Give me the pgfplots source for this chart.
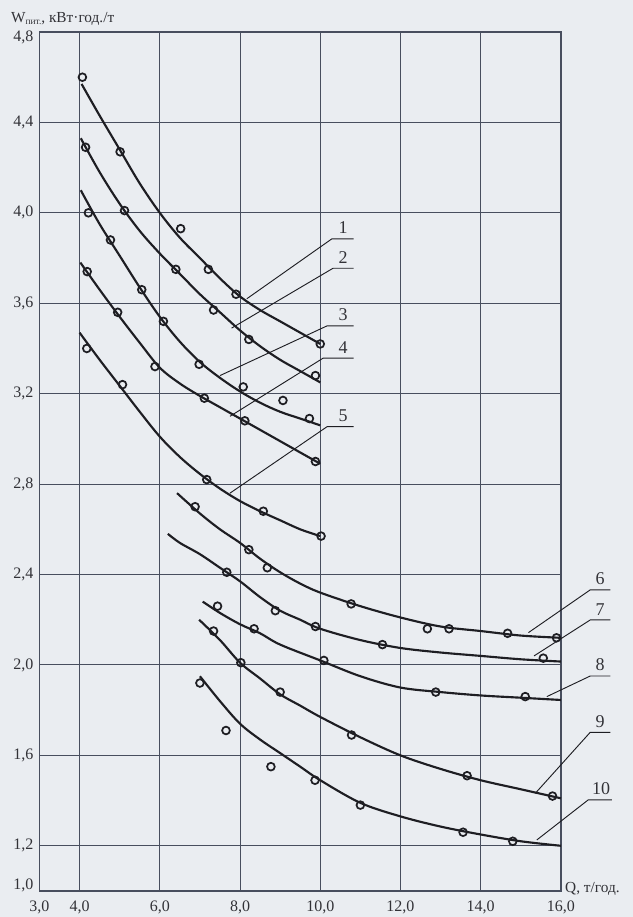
\documentclass[border=0pt]{standalone}
\usepackage{fontspec}
\setmainfont{Liberation Serif}
\usepackage{pgfplots}
\pgfplotsset{compat=1.18}
\definecolor{bg}{RGB}{234,237,241}
\definecolor{ink}{RGB}{30,30,35}
\definecolor{gridc}{RGB}{72,78,94}
\definecolor{txt}{RGB}{50,50,55}
\tikzset{
  lead/.style={ink, line width=0.7pt},
  lab/.style={font=\fontsize{13.5}{15}\selectfont, text=txt, anchor=south, inner sep=0pt, yshift=3.5pt},
}
\pgfplotsset{
  curve/.style={ink, line width=1.6pt, smooth, tension=0.55},
  pts/.style={only marks, mark=o, mark size=2.9pt, line width=1.3pt, mark options={draw=ink, line width=1.3pt, fill=bg}},
}
\begin{document}
\begin{tikzpicture}
\fill[bg] (-29.6pt,-19.5pt) rectangle (445.1pt,668.25pt);
\begin{axis}[
  name=ax,
  at={(0,0)}, anchor=south west,
  scale only axis,
  width=391.1pt, height=644.25pt,
  xmin=3, xmax=16, ymin=1.0, ymax=4.8,
  xtick={3,4,6,8,10,12,14,16},
  xticklabels={{3,0},{4,0},{6,0},{8,0},{10,0},{12,0},{14,0},{16,0}},
  ytick={1.0,1.2,1.6,2.0,2.4,2.8,3.2,3.6,4.0,4.4,4.8},
  yticklabels={{\raisebox{1pt}[0pt][0pt]{1,0}},{1,2},{1,6},{2,0},{2,4},{2,8},{3,2},{3,6},{4,0},{4,4},{\raisebox{-7.5pt}[0pt][0pt]{4,8}}},
  major tick length=0pt,
  grid=major,
  grid style={gridc, line width=0.75pt},
  axis line style={gridc, line width=1.1pt},
  tick label style={font=\fontsize{12}{14}\selectfont, text=txt},
  xticklabel style={yshift=-3.5pt},
  yticklabel style={xshift=-1pt},
  clip=false,
]
% curve 1
\addplot[curve] coordinates {(4.05,4.57)(4.5,4.43)(5,4.28)(5.5,4.13)(6,4.00)(6.5,3.89)(7,3.80)(7.5,3.71)(8,3.63)(8.5,3.57)(9,3.52)(9.5,3.47)(10,3.42)};
\addplot[pts] coordinates {(4.07,4.60)(5.01,4.27)(6.52,3.93)(7.21,3.75)(7.90,3.64)(10.0,3.42)};
% curve 2
\addplot[curve] coordinates {(4.03,4.33)(4.5,4.18)(5,4.04)(5.5,3.92)(6,3.82)(6.5,3.73)(7,3.64)(7.5,3.56)(8,3.48)(8.5,3.41)(9,3.35)(9.5,3.30)(10,3.25)};
\addplot[pts] coordinates {(4.15,4.29)(5.12,4.01)(6.40,3.75)(7.34,3.57)(8.22,3.44)(9.88,3.28)};
% curve 3
\addplot[curve] coordinates {(4.03,4.10)(4.5,3.95)(5,3.81)(5.5,3.67)(6,3.54)(6.5,3.43)(7,3.34)(7.5,3.27)(8,3.21)(8.5,3.16)(9,3.12)(9.5,3.09)(10,3.06)};
\addplot[pts] coordinates {(4.22,4.00)(4.77,3.88)(5.55,3.66)(6.09,3.52)(6.98,3.33)(8.08,3.23)(9.07,3.17)(9.73,3.09)};
% curve 4
\addplot[curve] coordinates {(4.02,3.78)(4.5,3.66)(5,3.54)(5.5,3.425)(6,3.315)(6.5,3.245)(7,3.19)(7.5,3.14)(8,3.09)(8.5,3.04)(9,2.99)(9.5,2.94)(10,2.89)};
\addplot[pts] coordinates {(4.19,3.74)(4.95,3.56)(5.88,3.32)(7.11,3.18)(8.12,3.08)(9.88,2.90)};
% curve 5
\addplot[curve] coordinates {(4.0,3.47)(4.5,3.35)(5,3.235)(5.5,3.12)(6,3.01)(6.5,2.92)(7,2.845)(7.5,2.78)(8,2.725)(8.5,2.68)(9,2.64)(9.5,2.60)(10,2.57)};
\addplot[pts] coordinates {(4.18,3.40)(5.07,3.24)(7.17,2.82)(8.58,2.68)(10.02,2.57)};
% curve 6
\addplot[curve] coordinates {(6.43,2.76)(7,2.67)(7.5,2.60)(8,2.54)(8.5,2.47)(9,2.41)(9.5,2.36)(10,2.32)(11,2.26)(12,2.21)(13,2.17)(14,2.15)(15,2.13)(16,2.12)};
\addplot[pts] coordinates {(6.88,2.70)(8.22,2.51)(8.68,2.43)(10.77,2.27)(12.67,2.16)(13.21,2.16)(14.67,2.14)(15.89,2.12)};
% curve 7
\addplot[curve] coordinates {(6.2,2.58)(6.5,2.54)(7,2.49)(7.5,2.43)(8,2.37)(8.5,2.30)(9,2.24)(9.5,2.20)(10,2.16)(11,2.11)(12,2.075)(13,2.055)(14,2.04)(15,2.025)(16,2.015)};
\addplot[pts] coordinates {(7.67,2.41)(8.88,2.24)(9.88,2.17)(11.55,2.09)(15.56,2.03)};
% curve 8
\addplot[curve] coordinates {(7.07,2.28)(7.5,2.23)(8,2.18)(8.5,2.14)(9,2.09)(10,2.02)(11,1.95)(12,1.90)(13,1.88)(14,1.865)(15,1.855)(16,1.845)};
\addplot[pts] coordinates {(7.44,2.26)(8.35,2.16)(10.09,2.02)(12.88,1.88)(15.11,1.86)};
% curve 9
\addplot[curve] coordinates {(6.98,2.20)(7.5,2.11)(8,2.01)(8.5,1.94)(9,1.87)(9.5,1.82)(10,1.77)(11,1.68)(12,1.60)(13,1.54)(14,1.49)(15,1.45)(16,1.41)};
\addplot[pts] coordinates {(7.34,2.15)(8.02,2.01)(9.0,1.88)(10.78,1.69)(13.66,1.51)(15.79,1.42)};
% curve 10
\addplot[curve] coordinates {(7.0,1.95)(7.5,1.84)(8,1.74)(8.5,1.67)(9,1.61)(9.5,1.55)(10,1.49)(11,1.39)(12,1.33)(13,1.285)(14,1.25)(15,1.22)(16,1.20)};
\addplot[pts] coordinates {(7.0,1.92)(7.65,1.71)(8.77,1.55)(9.87,1.49)(11.0,1.38)(13.56,1.26)(14.8,1.22)};
% leaders and labels
\draw[lead] (axis cs:8.17,3.62) -- (axis cs:10.29,3.885) -- (axis cs:10.83,3.885);
\node[lab] at (axis cs:10.57,3.885) {1};
\draw[lead] (axis cs:7.79,3.49) -- (axis cs:10.32,3.755) -- (axis cs:10.83,3.755);
\node[lab] at (axis cs:10.57,3.755) {2};
\draw[lead] (axis cs:7.50,3.28) -- (axis cs:10.17,3.50) -- (axis cs:10.83,3.50);
\node[lab] at (axis cs:10.57,3.50) {3};
\draw[lead] (axis cs:7.75,3.10) -- (axis cs:10.07,3.357) -- (axis cs:10.83,3.357);
\node[lab] at (axis cs:10.57,3.357) {4};
\draw[lead] (axis cs:7.75,2.76) -- (axis cs:10.17,3.054) -- (axis cs:10.83,3.054);
\node[lab] at (axis cs:10.57,3.054) {5};
\draw[lead] (axis cs:15.19,2.143) -- (axis cs:16.73,2.332) -- (axis cs:17.23,2.332);
\node[lab] at (axis cs:16.98,2.332) {6};
\draw[lead] (axis cs:15.33,2.04) -- (axis cs:16.73,2.199) -- (axis cs:17.23,2.199);
\node[lab] at (axis cs:16.98,2.199) {7};
\draw[lead] (axis cs:15.65,1.86) -- (axis cs:16.73,1.951) -- (axis cs:17.23,1.951);
\node[lab] at (axis cs:16.98,1.951) {8};
\draw[lead] (axis cs:15.36,1.432) -- (axis cs:16.73,1.702) -- (axis cs:17.23,1.702);
\node[lab] at (axis cs:16.98,1.702) {9};
\draw[lead] (axis cs:15.40,1.226) -- (axis cs:16.68,1.403) -- (axis cs:17.27,1.403);
\node[lab] at (axis cs:17.0,1.403) {10};
\end{axis}
\node[anchor=base west, text=txt, inner sep=0pt, font=\fontsize{11.5}{13}\selectfont] at ([xshift=-21.4pt, yshift=7pt]ax.north west) {W{\fontsize{7}{8}\selectfont\raisebox{-0.35ex}{пит.}}, кВт·год./т};
\node[anchor=base west, text=txt, inner sep=0pt, font=\fontsize{11.5}{13}\selectfont] at ([xshift=3pt, yshift=-1.5pt]ax.south east) {Q, т/год.};
\pgfresetboundingbox
\path (-29.6pt,-19.5pt) rectangle (445.1pt,668.25pt);
\end{tikzpicture}
\end{document}
